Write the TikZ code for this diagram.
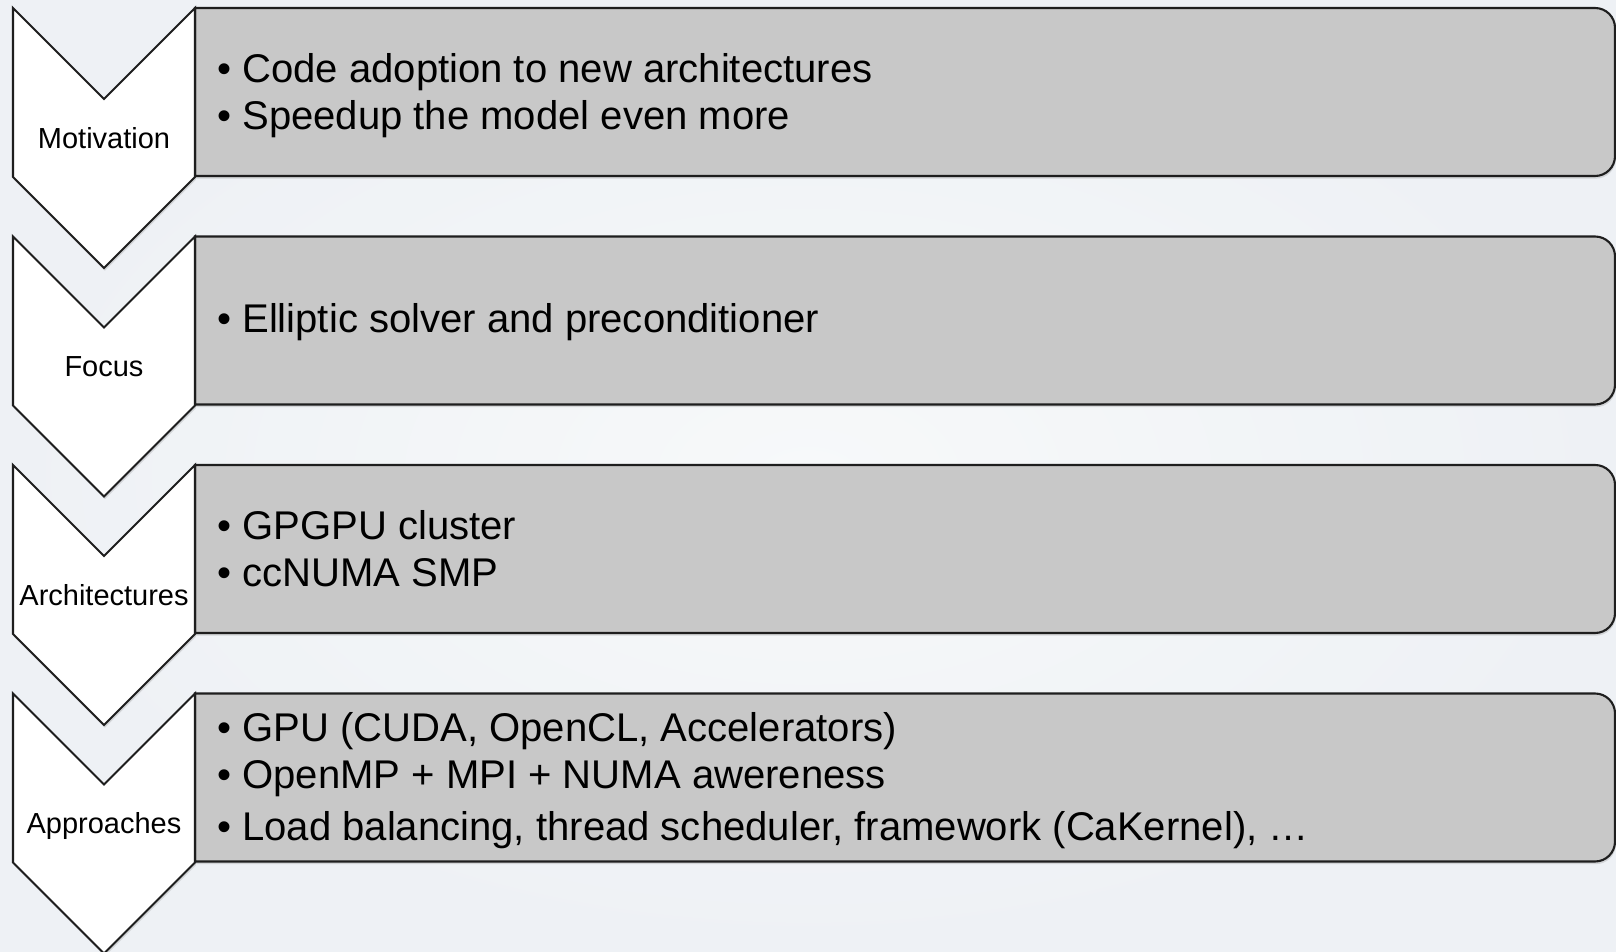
\documentclass[tikz,border=0pt]{standalone}
\usepackage{fontspec}
\setmainfont{Liberation Sans}
\usetikzlibrary{shadows}
\definecolor{bgcol}{RGB}{238,241,245}
\definecolor{bgmid}{RGB}{247,249,250}
\definecolor{boxgray}{RGB}{200,200,200}
\definecolor{edgecol}{RGB}{30,30,30}
\newcommand{\bul}[1]{\makebox[0.5cm][l]{\textbullet}#1}
\begin{document}
\begin{tikzpicture}[x=0.02cm,y=-0.02cm,line join=miter,
  shade/.style={drop shadow={shadow xshift=0.5pt,shadow yshift=-1.5pt,opacity=0.25}},
  chevron/.style={draw=edgecol,fill=white,line width=1.2pt},
  itembox/.style={draw=edgecol,fill=boxgray,line width=1.2pt},
  label/.style={font=\fontsize{16.5}{20}\selectfont,inner sep=0pt},
  items/.style={font=\fontsize{22.8}{26.8}\selectfont,anchor=west,align=left,inner sep=0pt}]
   % Hintergrund
   \useasboundingbox (0,0) rectangle (1616,952);
   \shade[inner color=bgmid,outer color=bgcol] (0,0) rectangle (1616,952);

   % Kaesten rechts
   \foreach \t in {8,236.5,465,693.5}{
     \draw[itembox,shade] (195,\t) -- (1595,\t) to[out=0,in=90] (1615,\t+20)
        -- (1615,\t+148) to[out=-90,in=0] (1595,\t+168) -- (195,\t+168) -- cycle;
   }

   % Pfeile links
   \foreach \t in {8,236.5,465,693.5}{
     \draw[chevron,shade] (13,\t) -- (104,\t+91) -- (195,\t) -- (195,\t+169)
        -- (104,\t+260) -- (13,\t+169) -- cycle;
   }

   \node[label] (motiv) at (104,138) {Motivation};
   \node[label] (focus) at (104,366.5) {Focus};
   \node[label] (arch)  at (104,595) {Architectures};
   \node[label] (appr)  at (104,826) {Approaches};

   % Inhalte
   \node[items] (motivtxt) at (217,96) {\bul{Code adoption to new architectures}\\
     \bul{Speedup the model even more}};
   \node[items] (focustxt) at (217,322.5) {\bul{Elliptic solver and preconditioner}};
   \node[items] (archtxt) at (217,549) {\bul{GPGPU cluster}\\
     \bul{ccNUMA SMP}};
   \node[items] (apprtxt) at (217,780.5) {\bul{GPU (CUDA, OpenCL, Accelerators)}\\
     \bul{OpenMP + MPI + NUMA awereness}\\[0.1cm]
     \bul{Load balancing, thread scheduler, framework (CaKernel), …}};

\end{tikzpicture}
\end{document}
